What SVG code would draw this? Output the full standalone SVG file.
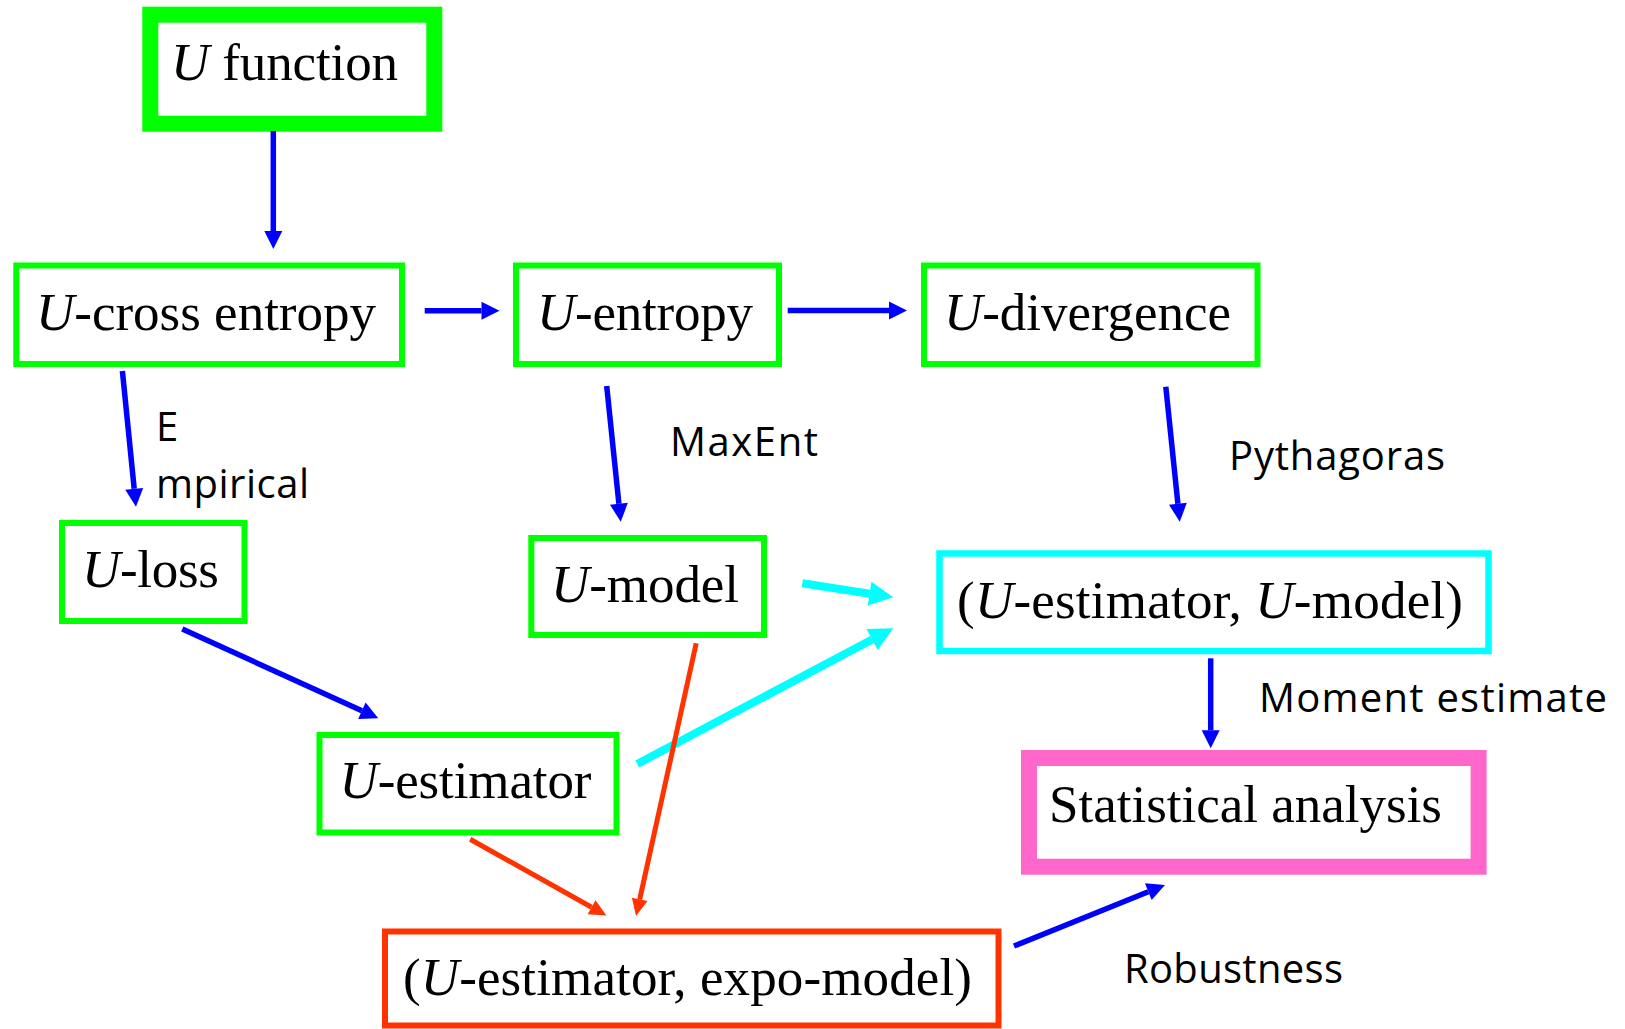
<svg xmlns="http://www.w3.org/2000/svg" width="1625" height="1029" viewBox="0 0 1625 1029">
<style>
.box{fill:none}
.g{stroke:#00FF00;stroke-width:6}
.serif{font-family:"Liberation Serif","Times New Roman",serif;font-size:53px;fill:#000}
.sans{font-family:"Open Sans","Liberation Sans",sans-serif;font-size:40px;fill:#000}
.it{font-style:italic}
.blue{stroke:#0000FF;stroke-width:5.5;fill:none;marker-end:url(#hb)}
.cyan{stroke:#00FFFF;stroke-width:8;fill:none;marker-end:url(#hc)}
.red{stroke:#FF3300;stroke-width:5;fill:none;marker-end:url(#hr)}
</style>
<defs>
<marker id="hb" markerUnits="userSpaceOnUse" markerWidth="20" markerHeight="20" refX="0" refY="9" orient="auto" overflow="visible"><path d="M0,0 L18,9 L0,18 Z" fill="#0000FF"/></marker>
<marker id="hc" markerUnits="userSpaceOnUse" markerWidth="26" markerHeight="26" refX="0" refY="12" orient="auto" overflow="visible"><path d="M0,0 L24,12 L0,24 Z" fill="#00FFFF"/></marker>
<marker id="hr" markerUnits="userSpaceOnUse" markerWidth="18" markerHeight="18" refX="0" refY="8" orient="auto" overflow="visible"><path d="M0,0 L17,8 L0,16 Z" fill="#FF3300"/></marker>
</defs>
<rect width="1625" height="1029" fill="#fff"/>
<g id="n-ufunction"><rect class="box" x="150.3" y="14.7" width="284" height="109" stroke="#00FF00" stroke-width="16"/><text class="serif" x="171" y="80" textLength="227" lengthAdjust="spacing"><tspan class="it">U</tspan> function</text></g>
<g id="n-crossentropy"><rect class="box g" x="16.3" y="265.5" width="385.7" height="98.5"/><text class="serif" x="36" y="330" textLength="340" lengthAdjust="spacing"><tspan class="it">U</tspan>-cross entropy</text></g>
<g id="n-entropy"><rect class="box g" x="516" y="265.5" width="263" height="98.5"/><text class="serif" x="537" y="330" textLength="216" lengthAdjust="spacing"><tspan class="it">U</tspan>-entropy</text></g>
<g id="n-divergence"><rect class="box g" x="924" y="265.5" width="333.5" height="98.5"/><text class="serif" x="944" y="330" textLength="287" lengthAdjust="spacing"><tspan class="it">U</tspan>-divergence</text></g>
<g id="n-loss"><rect class="box g" x="62" y="523" width="182.5" height="98"/><text class="serif" x="82" y="586.7" textLength="137" lengthAdjust="spacing"><tspan class="it">U</tspan>-loss</text></g>
<g id="n-model"><rect class="box g" x="531.3" y="538" width="232.7" height="97"/><text class="serif" x="551" y="601.7" textLength="188" lengthAdjust="spacing"><tspan class="it">U</tspan>-model</text></g>
<g id="n-pair"><rect class="box" x="939.5" y="553.5" width="549" height="97.5" stroke="#00FFFF" stroke-width="6.5"/><text class="serif" x="957" y="618.3" textLength="506" lengthAdjust="spacing">(<tspan class="it">U</tspan>-estimator, <tspan class="it">U</tspan>-model)</text></g>
<g id="n-estimator"><rect class="box g" x="319.5" y="735" width="297" height="97.5"/><text class="serif" x="339.5" y="798.3" textLength="252" lengthAdjust="spacing"><tspan class="it">U</tspan>-estimator</text></g>
<g id="n-stat"><rect class="box" x="1029" y="758" width="449.6" height="108.7" stroke="#FF66CC" stroke-width="16"/><text class="serif" x="1049" y="821.7" textLength="393" lengthAdjust="spacing">Statistical analysis</text></g>
<g id="n-expo"><rect class="box" x="385" y="931.5" width="613.5" height="94" stroke="#FF3300" stroke-width="6"/><text class="serif" x="403" y="995" textLength="569" lengthAdjust="spacing">(<tspan class="it">U</tspan>-estimator, expo-model)</text></g>
<g id="connectors">
<line class="blue" x1="273.3" y1="131" x2="273.3" y2="231"/>
<line class="blue" x1="424.7" y1="310.7" x2="481.5" y2="310.7"/>
<line class="blue" x1="787.7" y1="310.5" x2="889" y2="310.5"/>
<line class="blue" x1="122.4" y1="371" x2="134.2" y2="488.8"/>
<line class="blue" x1="606.7" y1="386" x2="618.9" y2="503.8"/>
<line class="blue" x1="1165.8" y1="386.7" x2="1177.9" y2="503.8"/>
<line class="blue" x1="182.3" y1="629" x2="361.9" y2="710.8"/>
<line class="blue" x1="1210.7" y1="658.3" x2="1210.7" y2="730.3"/>
<line class="blue" x1="1014" y1="946" x2="1148.3" y2="891.7"/>
<line class="cyan" x1="802.3" y1="583.3" x2="869.6" y2="593.7"/>
<line class="cyan" x1="637.2" y1="764" x2="872.1" y2="639.5"/>
<line class="red" x1="470.2" y1="839.3" x2="591.6" y2="907.2"/>
<line class="red" x1="696.2" y1="643.3" x2="639.7" y2="899.4"/>
<text class="sans" x="156" y="440.5">E</text>
<text class="sans" x="156" y="498.3" textLength="153" lengthAdjust="spacing">mpirical</text>
<text class="sans" x="670" y="456" textLength="148" lengthAdjust="spacing">MaxEnt</text>
<text class="sans" x="1229" y="470" textLength="216" lengthAdjust="spacing">Pythagoras</text>
<text class="sans" x="1259" y="711.7" textLength="348" lengthAdjust="spacing">Moment estimate</text>
<text class="sans" x="1124" y="983.3" textLength="219" lengthAdjust="spacing">Robustness</text>
</g>
</svg>
